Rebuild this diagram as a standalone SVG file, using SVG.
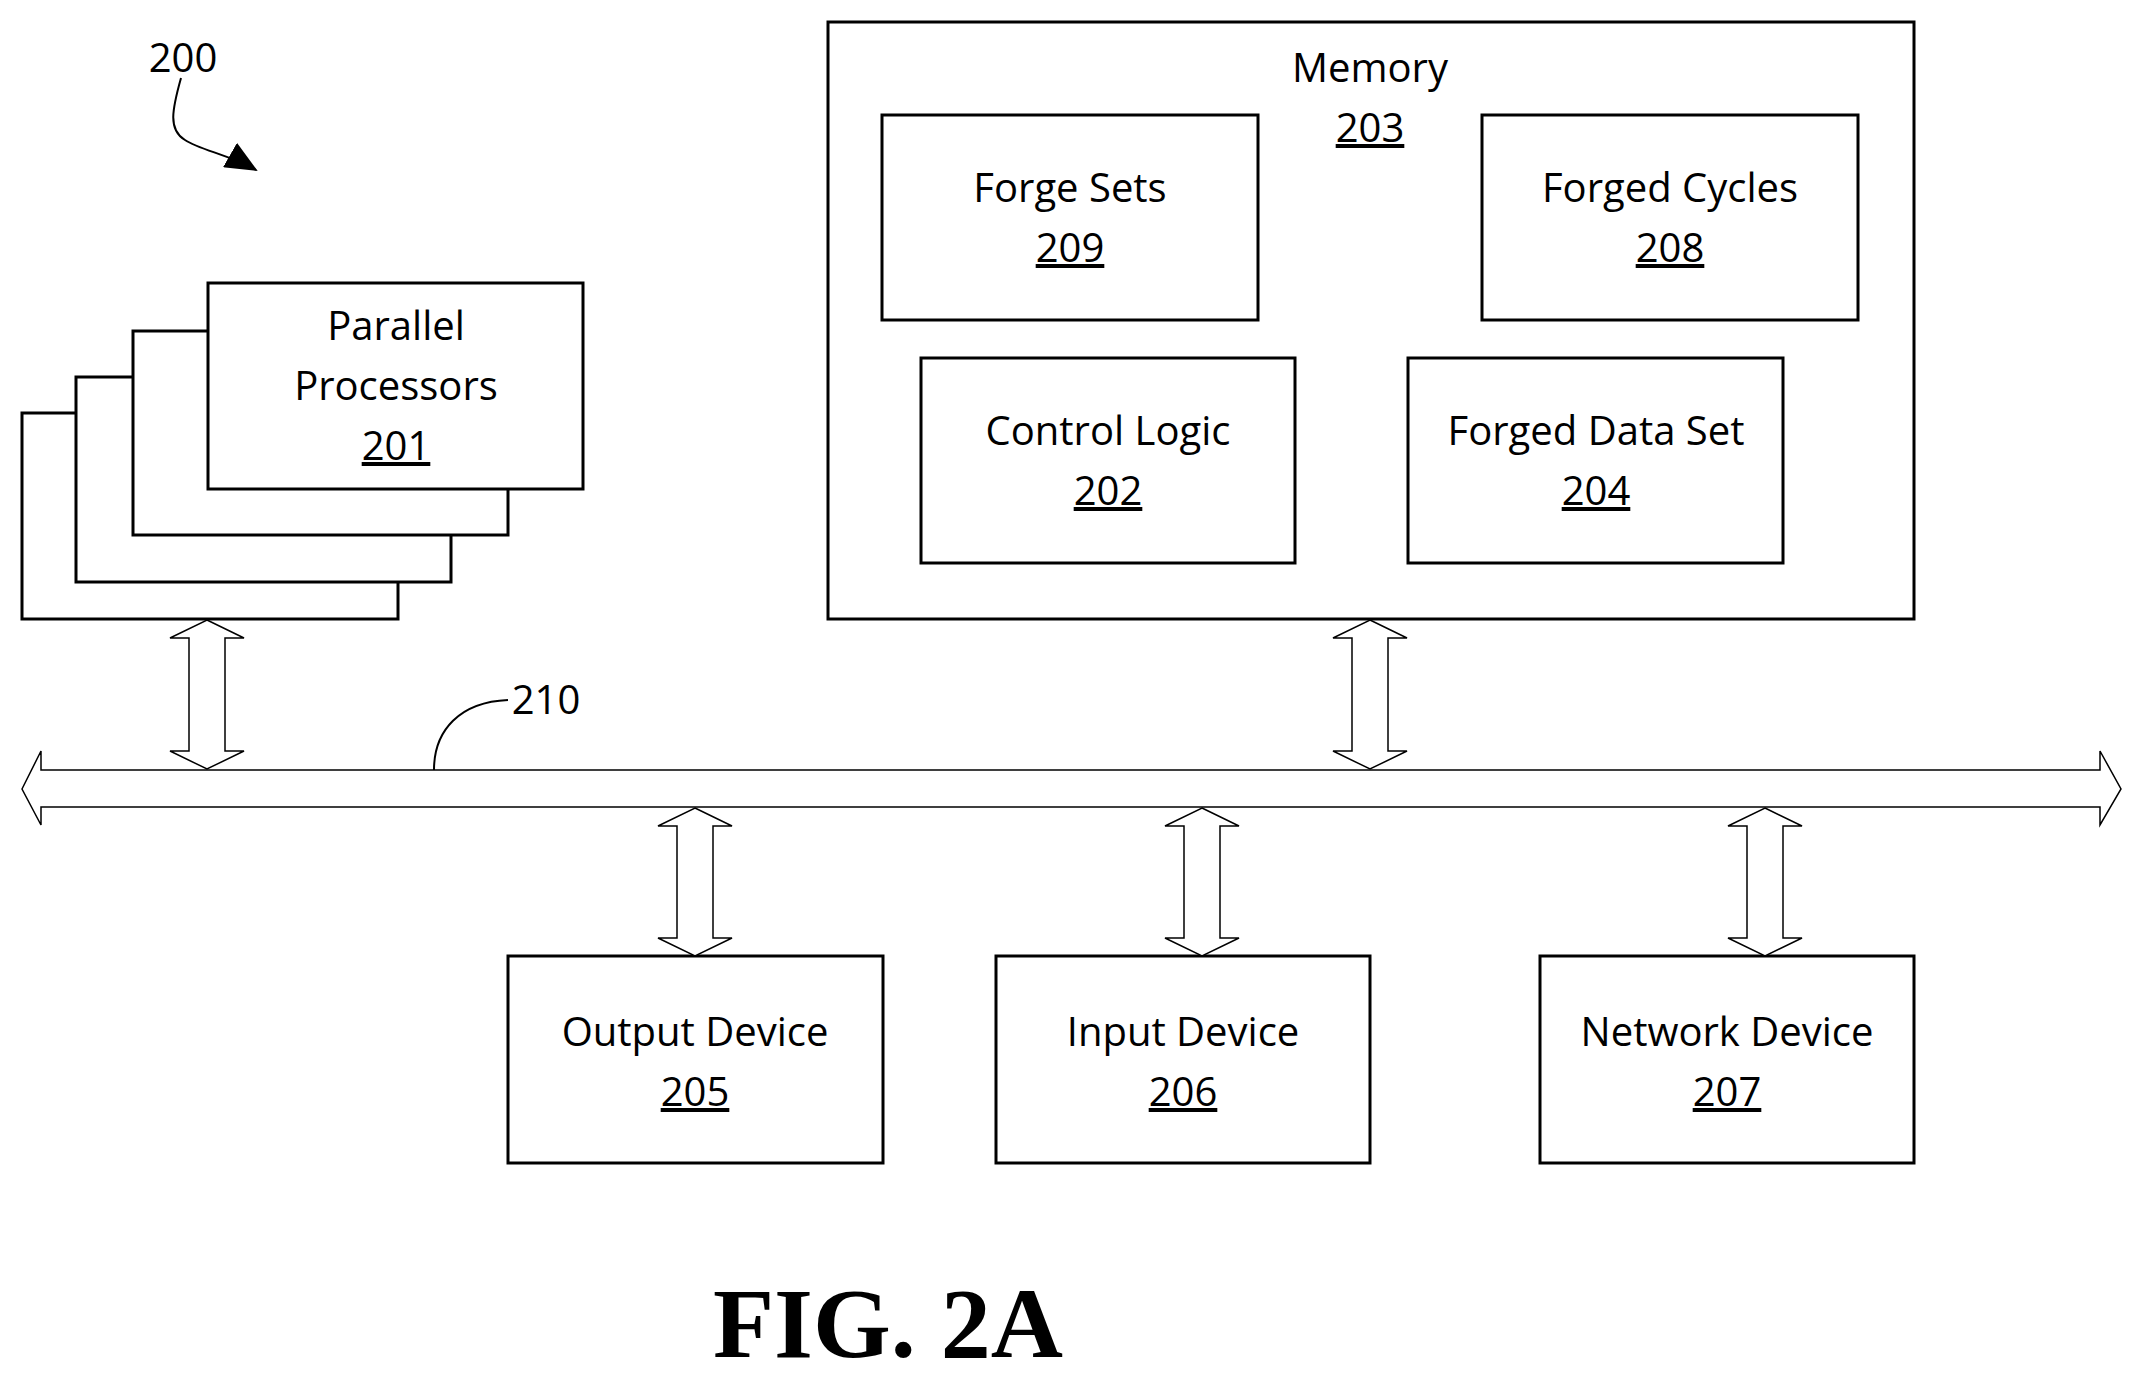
<svg xmlns="http://www.w3.org/2000/svg" width="2142" height="1381" viewBox="0 0 2142 1381">
<defs>
<style>
.b{fill:#fff;stroke:#000;stroke-width:3}
.t{font-family:"Open Sans","Liberation Sans",sans-serif;font-size:40px;text-anchor:middle;fill:#000}
.u{text-decoration:underline}
.da{fill:#fff;stroke:#000;stroke-width:1.5}
.l{fill:none;stroke:#000;stroke-width:2}
</style>
<marker id="ah" markerWidth="16" markerHeight="14" refX="15" refY="7" orient="auto" markerUnits="strokeWidth"><path d="M0,0 L16,7 L0,14 z" fill="#000"/></marker>
</defs>
<rect width="2142" height="1381" fill="#fff"/>
<g id="label200">
<text x="183" y="72" class="t" font-size="42">200</text>
<path class="l" d="M181,78 C172,110 168,130 185,140 C200,150 230,155 256,170" marker-end="url(#ah)"/>
</g>
<g id="n201">
<rect class="b" x="22" y="413" width="376" height="206"/>
<rect class="b" x="76" y="377" width="375" height="205"/>
<rect class="b" x="133" y="331" width="375" height="204"/>
<rect class="b" x="208" y="283" width="375" height="206"/>
<text class="t" x="396" y="340">Parallel</text>
<text class="t" x="396" y="400">Processors</text>
<text class="t u" x="396" y="460">201</text>
</g>
<g id="n203">
<rect class="b" x="828" y="22" width="1086" height="597"/>
<text class="t" x="1370" y="82">Memory</text>
<text class="t u" x="1370" y="142">203</text>
</g>
<g id="n209">
<rect class="b" x="882" y="115" width="376" height="205"/>
<text class="t" x="1070" y="202">Forge Sets</text>
<text class="t u" x="1070" y="262">209</text>
</g>
<g id="n208">
<rect class="b" x="1482" y="115" width="376" height="205"/>
<text class="t" x="1670" y="202">Forged Cycles</text>
<text class="t u" x="1670" y="262">208</text>
</g>
<g id="n202">
<rect class="b" x="921" y="358" width="374" height="205"/>
<text class="t" x="1108" y="445">Control Logic</text>
<text class="t u" x="1108" y="505">202</text>
</g>
<g id="n204">
<rect class="b" x="1408" y="358" width="375" height="205"/>
<text class="t" x="1596" y="445">Forged Data Set</text>
<text class="t u" x="1596" y="505">204</text>
</g>
<g id="n205">
<rect class="b" x="508" y="956" width="375" height="207"/>
<text class="t" x="695" y="1046">Output Device</text>
<text class="t u" x="695" y="1106">205</text>
</g>
<g id="n206">
<rect class="b" x="996" y="956" width="374" height="207"/>
<text class="t" x="1183" y="1046">Input Device</text>
<text class="t u" x="1183" y="1106">206</text>
</g>
<g id="n207">
<rect class="b" x="1540" y="956" width="374" height="207"/>
<text class="t" x="1727" y="1046">Network Device</text>
<text class="t u" x="1727" y="1106">207</text>
</g>
<g id="connectors">
<path id="bus210" class="da" d="M22,789 L41,751 L41,770 L2100,770 L2100,751 L2121,789 L2100,825 L2100,807 L41,807 L41,825 Z"/>
<path class="da" d="M207,620 L244,638 L225,638 L225,751 L244,751 L207,769 L170,751 L189,751 L189,638 L170,638 Z"/>
<path class="da" d="M1370,620 L1407,638 L1388,638 L1388,751 L1407,751 L1370,769 L1333,751 L1352,751 L1352,638 L1333,638 Z"/>
<path class="da" d="M695,808 L732,826 L713,826 L713,938 L732,938 L695,956 L658,938 L677,938 L677,826 L658,826 Z"/>
<path class="da" d="M1202,808 L1239,826 L1220,826 L1220,938 L1239,938 L1202,956 L1165,938 L1184,938 L1184,826 L1165,826 Z"/>
<path class="da" d="M1765,808 L1802,826 L1783,826 L1783,938 L1802,938 L1765,956 L1728,938 L1747,938 L1747,826 L1728,826 Z"/>
<path class="l" d="M434,770 C434,730 460,702 508,700"/>
<text class="t" x="546" y="714" font-size="42">210</text>
</g>
<text x="888" y="1357" font-family="'Liberation Serif',serif" font-weight="bold" font-size="100" text-anchor="middle">FIG. 2A</text>
</svg>
